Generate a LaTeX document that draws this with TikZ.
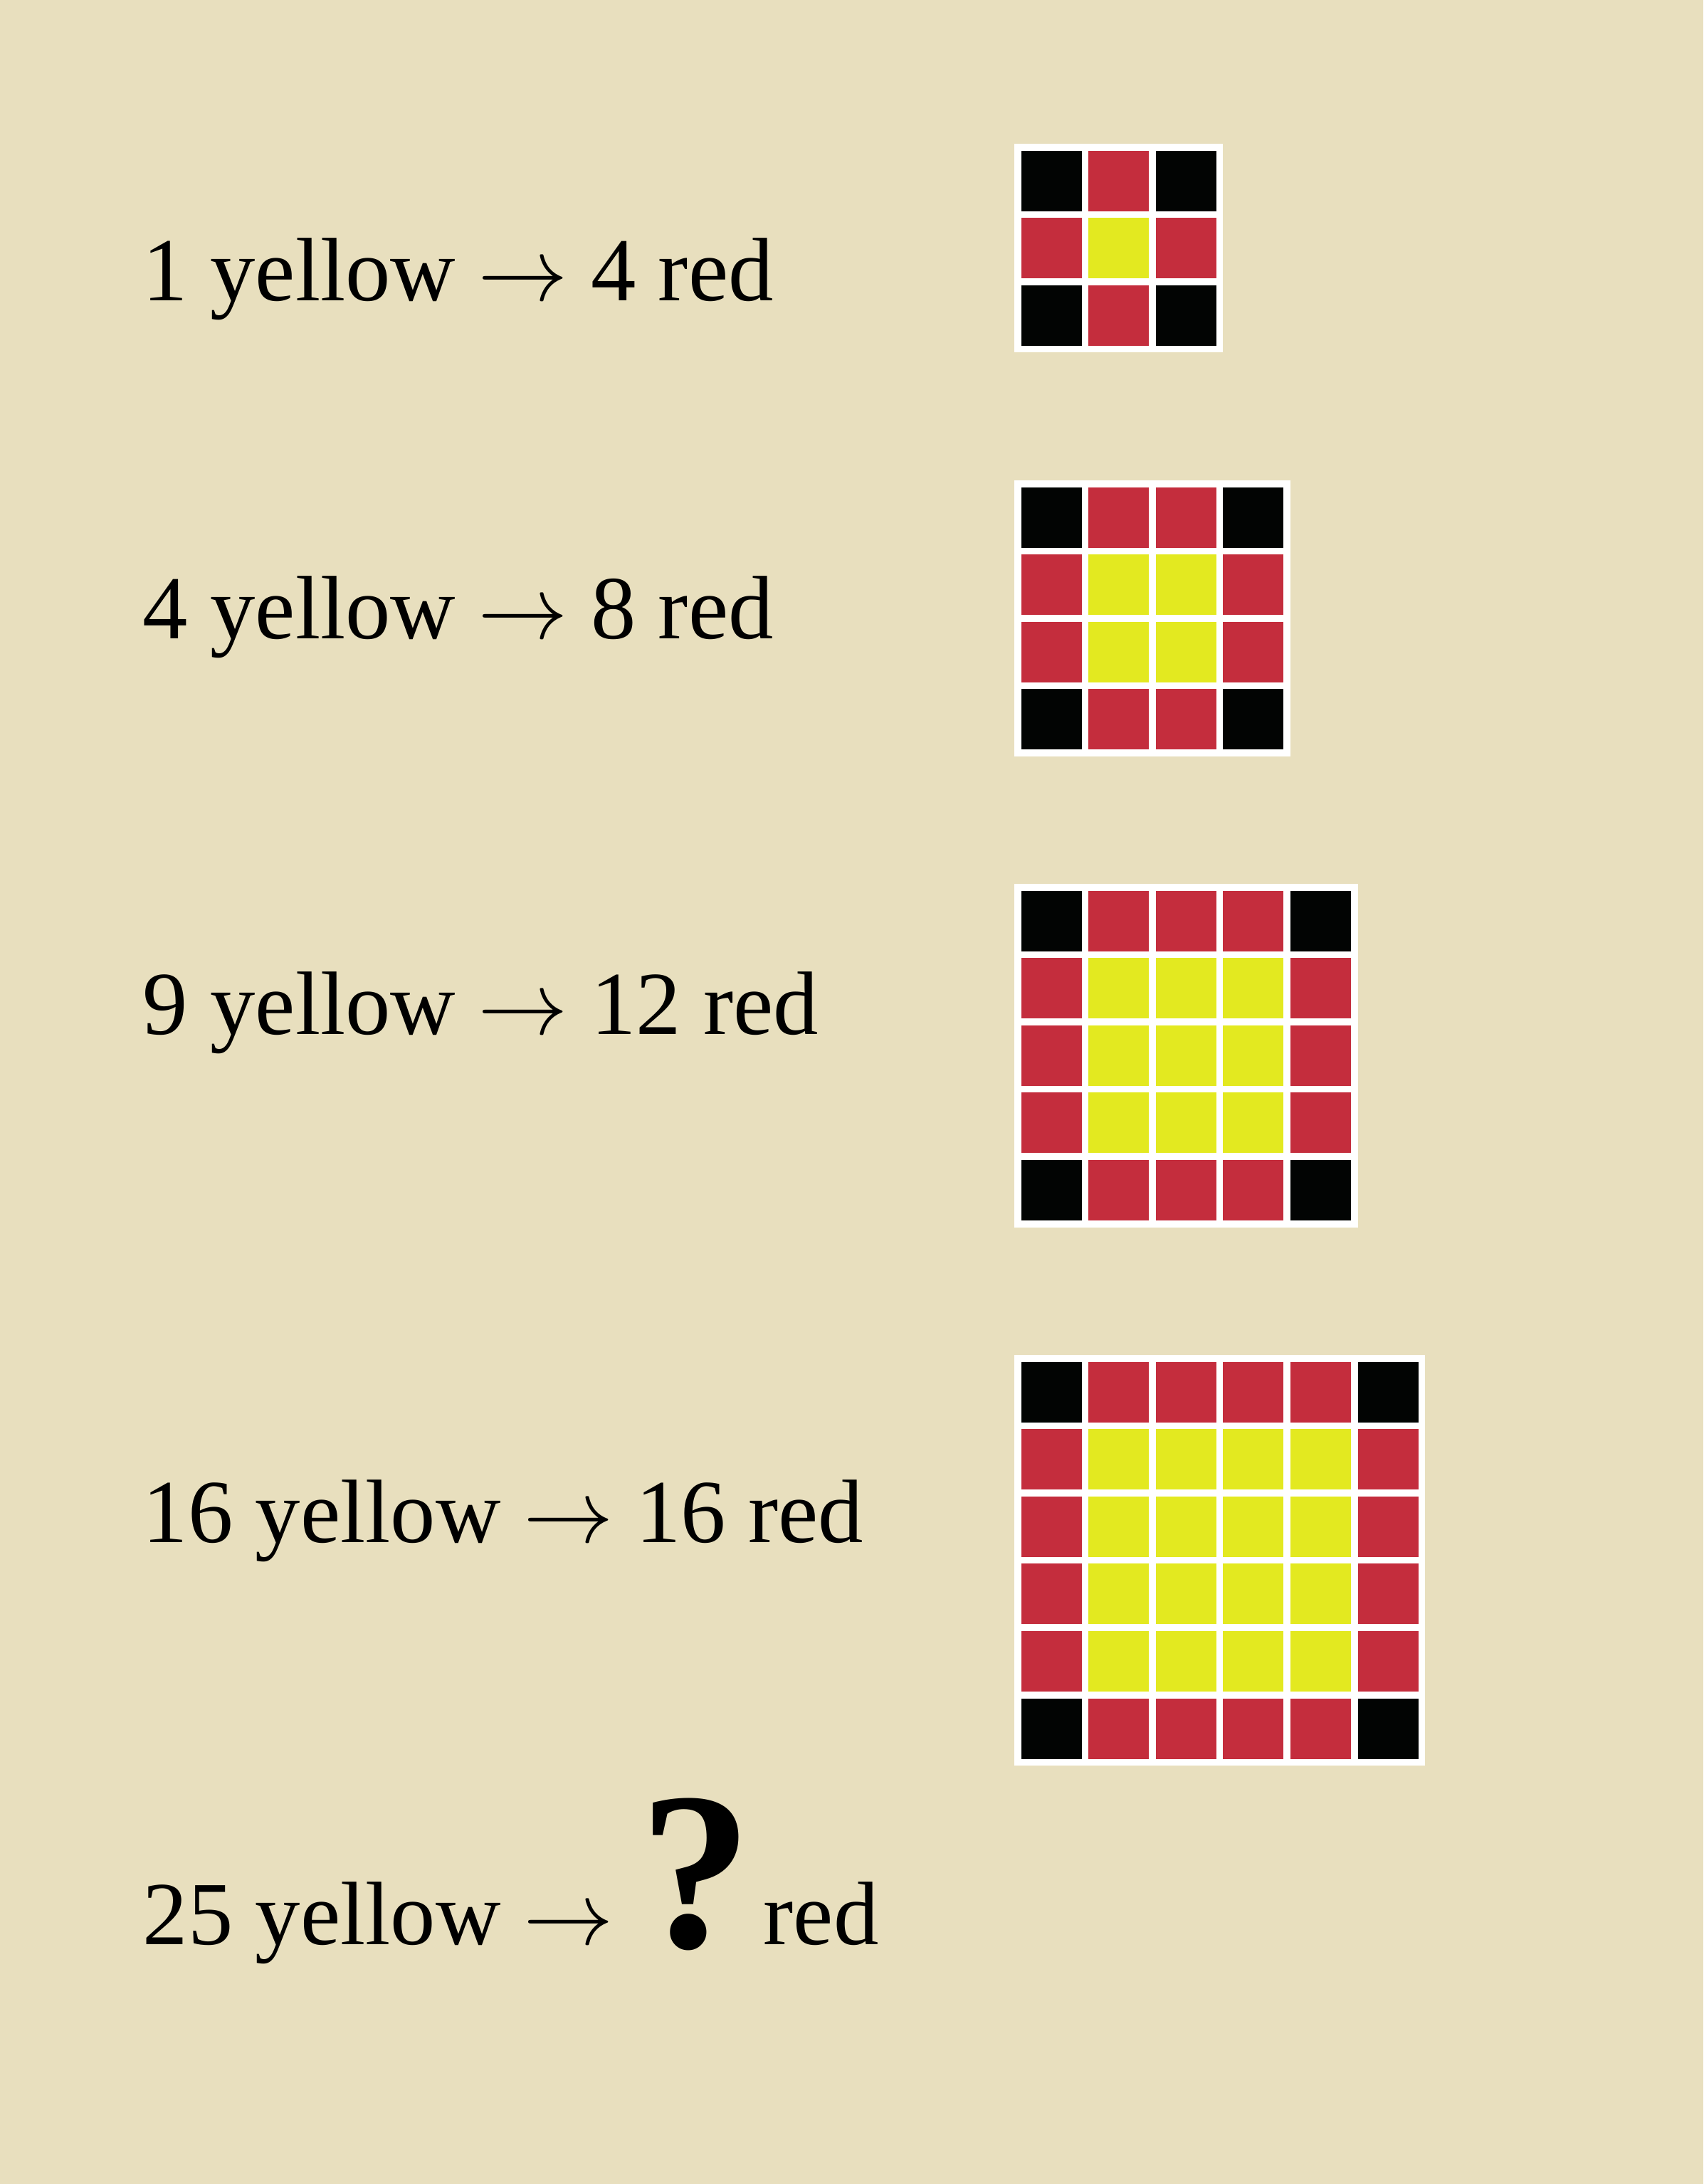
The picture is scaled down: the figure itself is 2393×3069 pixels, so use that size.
\RequirePackage{fix-cm}
\documentclass[tikz,border=0pt]{standalone}
\usepackage{fontspec}
\setmainfont{Liberation Serif}
\usepackage{tikz}
\usetikzlibrary{positioning}
\definecolor{paper}{RGB}{232,223,190}
\definecolor{cellred}{RGB}{196,45,61}
\definecolor{cellyellow}{RGB}{227,233,32}
\definecolor{cellblack}{RGB}{2,4,3}
\tikzset{
  % text of the rows
  rowlabel/.style={anchor=base west, inner sep=0pt, font=\fontsize{36}{43}\selectfont},
  qmark/.style={anchor=base, inner sep=0pt, font=\fontsize{90}{100}\selectfont\bfseries},
  % the squares
  frame/.style={fill=white},
  cell/.style={fill=#1}
}

\begin{document}
\begin{tikzpicture}[x=0.01cm, y=-0.01cm]
    % Background
    \fill[paper] (0,0) rectangle (2393,3069);
    \useasboundingbox (0,0) rectangle (2393,3069);

    % Place labels
    \node [rowlabel] (row1) at (200,422) {1 yellow $\rightarrow$ 4 red};
    \node [rowlabel] (row2) at (200,897) {4 yellow $\rightarrow$ 8 red};
    \node [rowlabel] (row3) at (200,1453) {9 yellow $\rightarrow$ 12 red};
    \node [rowlabel] (row4) at (200,2167) {16 yellow $\rightarrow$ 16 red};
    \node [rowlabel] (row5) at (200,2732) {25 yellow $\rightarrow$};
    \node [qmark] (ask) at (978,2736) {?};
    \node [rowlabel] (askred) at (1072,2732) {red};

    % Draw grids
    \foreach \n/\top in {3/202, 4/675, 5/1242, 6/1904} {
        \fill[frame] (1425,\top) rectangle ++({\n*94.6+9.6},{\n*94.6+9.6});
        \foreach \i in {1,...,\n} {
            \foreach \j in {1,...,\n} {
                \pgfmathtruncatemacro\edge{(\i==1)+(\i==\n)+(\j==1)+(\j==\n)}
                \ifcase\edge \def\col{cellyellow}\or \def\col{cellred}\else \def\col{cellblack}\fi
                \fill[cell=\col] ({1434.6+(\j-1)*94.6},{\top+9.6+(\i-1)*94.6}) rectangle ++(85,85);
            }
        }
    }
\end{tikzpicture}
\end{document}
